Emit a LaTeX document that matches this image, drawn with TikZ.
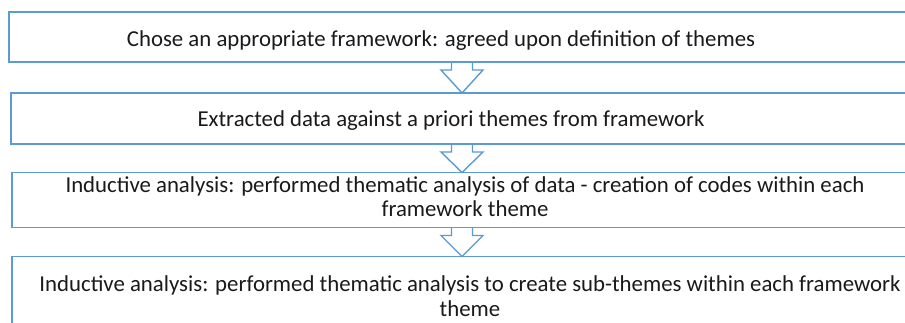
\documentclass[tikz,border=0pt]{standalone}
\usepackage{fontspec}
\setmainfont{Carlito}
\usepackage{tikz}
\usetikzlibrary{calc}
\usepackage{xcolor}
\definecolor{flowLine}{HTML}{5B9BD5}
\definecolor{flowText}{HTML}{1A1A1A}
\tikzset{
    flowbox/.style={rectangle, draw=flowLine, line width=1.4pt, fill=white, inner sep=0pt, outer sep=0pt, anchor=north west},
    flowtext/.style={font=\fontsize{22.8}{24.5}\selectfont, text=flowText, align=center, inner sep=0pt, anchor=base},
    hollowarrow/.style={draw=flowLine, line width=1.4pt, line join=miter}
}
\begin{document}
\begin{tikzpicture}[x=1pt,y=-1pt]
    \useasboundingbox[fill=white] (0,0) rectangle (905,323);
    \clip (0,0) rectangle (905,323);

    % Step boxes (they run past the right edge)
    \node[flowbox, minimum width=911pt, minimum height=50pt] at (9,12) (b1) {};
    \node[flowbox, minimum width=909pt, minimum height=51pt] at (11,93) (b2) {};
    \node[flowbox, minimum width=908pt, minimum height=55pt] at (12,172.5) (b3) {};
    \node[flowbox, minimum width=908pt, minimum height=90pt] at (12,256.5) (b4) {};

    % Step texts (base = last line)
    \node[flowtext] at (441,47) (t1) {Chose an appropriate framework: agreed upon definition of themes};
    \node[flowtext] at (451,127) (t2) {Extracted data against a priori themes from framework};
    \node[flowtext] at (465,216.7) (t3) {Inductive analysis: performed thematic analysis of data - creation of codes within each\\framework theme};
    \node[flowtext] at (470,316) (t4) {Inductive analysis: performed thematic analysis to create sub-themes within each framework\\theme};

    % Hollow down arrows
    \coordinate (ax) at (462,0);
    \draw[hollowarrow] ($(b1.south -| ax)+(-10.5,0)$) |- ($(b1.south -| ax)+(-21,8)$) -- (b2.north -| ax) -- ($(b1.south -| ax)+(21,8)$) -| ($(b1.south -| ax)+(10.5,0)$);
    \draw[hollowarrow] ($(b2.south -| ax)+(-10.5,0)$) |- ($(b2.south -| ax)+(-21,8)$) -- (b3.north -| ax) -- ($(b2.south -| ax)+(21,8)$) -| ($(b2.south -| ax)+(10.5,0)$);
    \draw[hollowarrow] ($(b3.south -| ax)+(-10.5,0)$) |- ($(b3.south -| ax)+(-21,8)$) -- (b4.north -| ax) -- ($(b3.south -| ax)+(21,8)$) -| ($(b3.south -| ax)+(10.5,0)$);
\end{tikzpicture}
\end{document}
